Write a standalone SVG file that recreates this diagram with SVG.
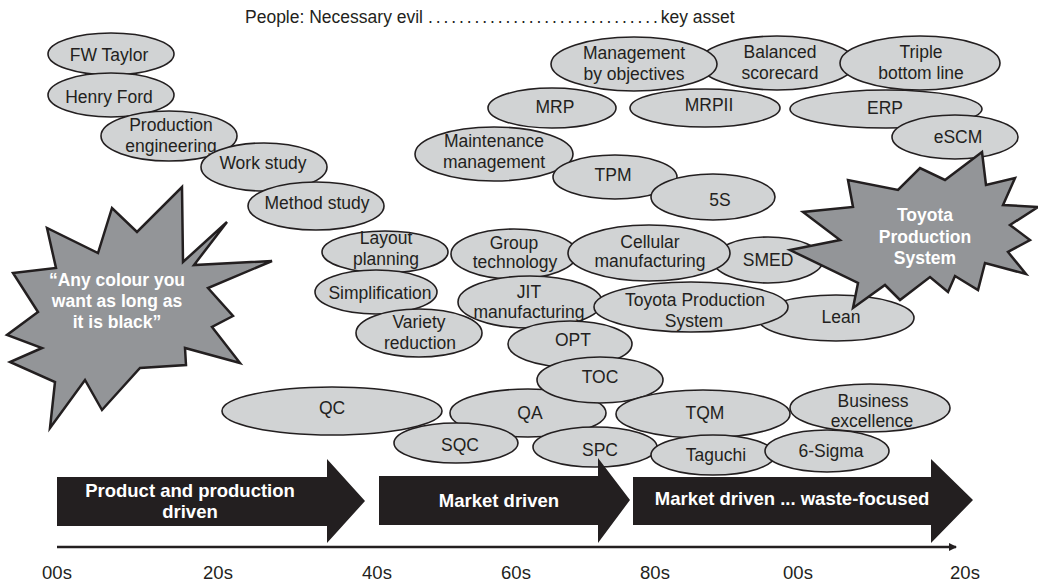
<svg xmlns="http://www.w3.org/2000/svg" width="1038" height="581" viewBox="0 0 1038 581">
<style>
.e{fill:#d1d3d4;stroke:#231f20;stroke-width:1.6}
.t{font-family:"Liberation Sans",Arial,sans-serif;font-size:17.5px;fill:#231f20;text-anchor:middle}
.star{fill:#939598;stroke:#231f20;stroke-width:2.5;stroke-linejoin:miter}
.st{font-family:"Liberation Sans",Arial,sans-serif;font-size:17.5px;font-weight:bold;fill:#ffffff;text-anchor:middle}
.arr{fill:#231f20}
.at{font-family:"Liberation Sans",Arial,sans-serif;font-size:18.5px;font-weight:bold;fill:#ffffff;text-anchor:middle}
.ax{font-family:"Liberation Sans",Arial,sans-serif;font-size:18.5px;fill:#231f20;text-anchor:middle}
</style>
<defs>
<marker id="ah" markerWidth="8" markerHeight="8" refX="7" refY="4" orient="auto" markerUnits="userSpaceOnUse"><path d="M0,0 L8,4 L0,8 Z" fill="#231f20"/></marker>
</defs>
<text id="title" class="t" x="245" y="23" style="text-anchor:start">People: Necessary evil <tspan letter-spacing="2.9">..............................</tspan>key asset</text>
<g id="nodes">
<g id="n-fwtaylor"><ellipse class="e" cx="111" cy="54" rx="63" ry="21"/><text class="t" x="109" y="61">FW Taylor</text></g>
<g id="n-henryford"><ellipse class="e" cx="111" cy="95" rx="63" ry="22"/><text class="t" x="109" y="103">Henry Ford</text></g>
<g id="n-prodeng"><ellipse class="e" cx="169" cy="136" rx="68" ry="25"/><text class="t" x="171" y="131">Production</text><text class="t" x="171" y="152">engineering</text></g>
<g id="n-workstudy"><ellipse class="e" cx="264" cy="167" rx="63" ry="24"/><text class="t" x="263" y="169">Work study</text></g>
<g id="n-methodstudy"><ellipse class="e" cx="316" cy="206" rx="68" ry="24"/><text class="t" x="317" y="209">Method study</text></g>
<g id="n-layout"><ellipse class="e" cx="385" cy="252" rx="63" ry="21"/><text class="t" x="386" y="244">Layout</text><text class="t" x="386" y="265">planning</text></g>
<g id="n-simplification"><ellipse class="e" cx="376" cy="292" rx="61" ry="22"/><text class="t" x="380" y="299">Simplification</text></g>
<g id="n-balanced"><ellipse class="e" cx="777" cy="63" rx="78" ry="27"/><text class="t" x="780" y="58">Balanced</text><text class="t" x="780" y="79">scorecard</text></g>
<g id="n-mbo"><ellipse class="e" cx="634" cy="64" rx="83" ry="27"/><text class="t" x="634" y="59">Management</text><text class="t" x="634" y="80">by objectives</text></g>
<g id="n-triple"><ellipse class="e" cx="920" cy="63" rx="80" ry="27"/><text class="t" x="921" y="58">Triple</text><text class="t" x="921" y="79">bottom line</text></g>
<g id="n-mrp"><ellipse class="e" cx="552" cy="108" rx="64" ry="20"/><text class="t" x="555" y="113">MRP</text></g>
<g id="n-mrpii"><ellipse class="e" cx="705" cy="108" rx="75" ry="19"/><text class="t" x="709" y="111">MRPII</text></g>
<g id="n-erp"><ellipse class="e" cx="886" cy="109" rx="96" ry="19"/><text class="t" x="885" y="114">ERP</text></g>
<g id="n-escm"><ellipse class="e" cx="955" cy="137" rx="63" ry="22"/><text class="t" x="958" y="143">eSCM</text></g>
<g id="n-maint"><ellipse class="e" cx="494" cy="154" rx="79" ry="27"/><text class="t" x="494" y="147">Maintenance</text><text class="t" x="494" y="168">management</text></g>
<g id="n-tpm"><ellipse class="e" cx="615" cy="177" rx="62" ry="22"/><text class="t" x="613" y="181">TPM</text></g>
<g id="n-5s"><ellipse class="e" cx="713" cy="197" rx="62" ry="23"/><text class="t" x="720" y="206">5S</text></g>
<g id="n-group"><ellipse class="e" cx="514" cy="254" rx="63" ry="25"/><text class="t" x="514" y="249">Group</text><text class="t" x="515" y="268">technology</text></g>
<g id="n-smed"><ellipse class="e" cx="768" cy="260" rx="55" ry="23"/><text class="t" x="768" y="266">SMED</text></g>
<g id="n-cellular"><ellipse class="e" cx="649" cy="253" rx="81" ry="28"/><text class="t" x="650" y="248">Cellular</text><text class="t" x="650" y="267">manufacturing</text></g>
<g id="n-jit"><ellipse class="e" cx="530" cy="302" rx="72" ry="26"/><text class="t" x="529" y="298">JIT</text><text class="t" x="529" y="318">manufacturing</text></g>
<g id="n-variety"><ellipse class="e" cx="419" cy="333" rx="63" ry="24"/><text class="t" x="419" y="328">Variety</text><text class="t" x="420" y="349">reduction</text></g>
<g id="n-lean"><ellipse class="e" cx="836" cy="318" rx="78" ry="23"/><text class="t" x="841" y="323">Lean</text></g>
<g id="n-tps"><ellipse class="e" cx="691" cy="307" rx="97" ry="25"/><text class="t" x="695" y="306">Toyota Production</text><text class="t" x="694" y="327">System</text></g>
<g id="n-opt"><ellipse class="e" cx="570" cy="344" rx="62" ry="23"/><text class="t" x="573" y="346">OPT</text></g>
<g id="n-qc"><ellipse class="e" cx="332" cy="411" rx="110" ry="24"/><text class="t" x="332" y="414">QC</text></g>
<g id="n-qa"><ellipse class="e" cx="528" cy="413" rx="78" ry="24"/><text class="t" x="530" y="419">QA</text></g>
<g id="n-toc"><ellipse class="e" cx="600" cy="380" rx="63" ry="23"/><text class="t" x="600" y="383">TOC</text></g>
<g id="n-sqc"><ellipse class="e" cx="456" cy="443" rx="62" ry="20"/><text class="t" x="460" y="451">SQC</text></g>
<g id="n-spc"><ellipse class="e" cx="595" cy="447" rx="62" ry="20"/><text class="t" x="600" y="456">SPC</text></g>
<g id="n-tqm"><ellipse class="e" cx="703" cy="414" rx="87" ry="24"/><text class="t" x="705" y="419">TQM</text></g>
<g id="n-business"><ellipse class="e" cx="870" cy="408" rx="80" ry="24"/><text class="t" x="873" y="407">Business</text><text class="t" x="872" y="427">excellence</text></g>
<g id="n-taguchi"><ellipse class="e" cx="713" cy="455" rx="62" ry="20"/><text class="t" x="716" y="461">Taguchi</text></g>
<g id="n-6sigma"><ellipse class="e" cx="827" cy="451" rx="62" ry="21"/><text class="t" x="831" y="457">6-Sigma</text></g>
<g id="n-quote"><polygon class="star" points="182,187 183,262 227,222 194,265 272,261 208,288 233,316 212,327 240,363 185,348 186,365 140,368 102,410 85,380 50,428 55,382 10,362 42,348 7,335 38,312 13,273 56,268 47,228 98,253 112,208 137,232"/><text class="st" x="117" y="286">“Any colour you</text><text class="st" x="117" y="307">want as long as</text><text class="st" x="117" y="328">it is black”</text></g>
<g id="n-tps-star"><polygon class="star" points="982,152 986,185 1015,178 1003,205 1038,207 1010,225 1030,240 1008,252 1026,274 985,263 978,290 955,276 948,292 930,277 900,300 885,285 853,308 858,283 790,250 840,240 803,212 853,207 848,180 898,190 920,168 945,180"/><text class="st" x="925" y="221">Toyota</text><text class="st" x="925" y="243">Production</text><text class="st" x="925" y="264">System</text></g>
<g id="n-era1"><polygon class="arr" points="57,477 327,477 327,459 365,501 327,543 327,526 57,526"/><text class="at" x="190" y="497">Product and production</text><text class="at" x="190" y="518">driven</text></g>
<g id="n-era2"><polygon class="arr" points="379,476 598,476 598,458 630,500 598,543 598,525 379,525"/><text class="at" x="499" y="507">Market driven</text></g>
<g id="n-era3"><polygon class="arr" points="633,477 931,477 931,459 973,500 931,543 931,525 633,525"/><text class="at" x="792" y="505">Market driven ... waste-focused</text></g>
</g>
<g id="connectors">
<line x1="57" y1="547" x2="956" y2="547" stroke="#231f20" stroke-width="2.6" marker-end="url(#ah)"/>
</g>
<g id="axis-labels">
<text class="ax" x="57" y="579">00s</text>
<text class="ax" x="218" y="579">20s</text>
<text class="ax" x="377" y="579">40s</text>
<text class="ax" x="516" y="579">60s</text>
<text class="ax" x="655" y="579">80s</text>
<text class="ax" x="798" y="579">00s</text>
<text class="ax" x="965" y="579">20s</text>
</g>
</svg>
